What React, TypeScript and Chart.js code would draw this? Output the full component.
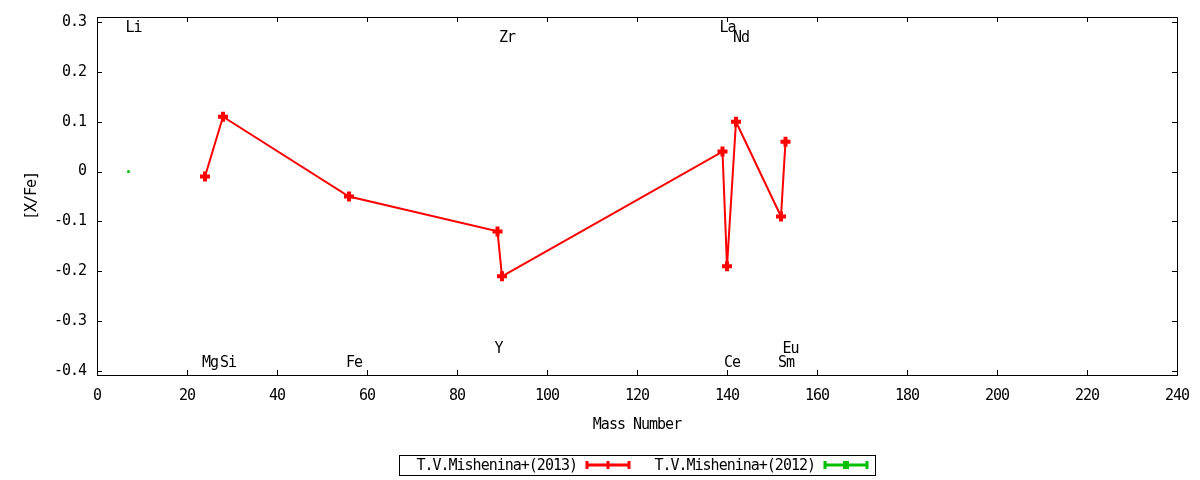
import { useEffect, useRef } from "react";
import { Chart, registerables, type Plugin } from "chart.js";

Chart.register(...registerables);

const FONT = "'DejaVu Sans Mono', monospace";
const FONT_SIZE = 15;
const RED = "#ff0000";
const GREEN = "#00c000";

// [X/Fe] vs mass number
const mass2013 = [24, 28, 56, 89, 90, 139, 140, 142, 152, 153];
const values2013 = [-0.01, 0.11, -0.05, -0.12, -0.21, 0.04, -0.19, 0.1, -0.09, 0.06];
const mass2012 = [7];
const values2012 = [0];
const seriesNames = ["T.V.Mishenina+(2013)", "T.V.Mishenina+(2012)"];

// element labels along the top / bottom of the plot
const elementNames = ["Li", "Mg", "Si", "Fe", "Y", "Zr", "La", "Ce", "Nd", "Sm", "Eu"];
const elementMass = [7, 24, 28, 56, 89, 90, 139, 140, 142, 152, 153];
const elementRow = [0, 3, 3, 3, 2, 1, 0, 3, 1, 3, 2];

const xTickValues = [0, 20, 40, 60, 80, 100, 120, 140, 160, 180, 200, 220, 240];
const xTickLabels = ["0", "20", "40", "60", "80", "100", "120", "140", "160", "180", "200", "220", "240"];
const yTickValues = [-0.4, -0.3, -0.2, -0.1, 0, 0.1, 0.2, 0.3];
const yTickLabels = ["-0.4", "-0.3", "-0.2", "-0.1", "0", "0.1", "0.2", "0.3"];

const rowValues = [0.288, 0.268, -0.356, -0.384];

const framePlugin: Plugin = {
  id: "frame",
  beforeDraw(chart) {
    // condensed look of the gnuplot font
    (chart.ctx as any).letterSpacing = "-1px";
  },
  afterDatasetsDraw(chart) {
    const { ctx, chartArea: a, scales } = chart;
    const x = scales.x;
    const y = scales.y;
    ctx.save();
    ctx.strokeStyle = "#000";
    ctx.lineWidth = 1;
    ctx.strokeRect(Math.round(a.left) + 0.5, Math.round(a.top) + 0.5, Math.round(a.right - a.left), Math.round(a.bottom - a.top));
    ctx.beginPath();
    for (const v of xTickValues) {
      const px = Math.round(x.getPixelForValue(v)) + 0.5;
      ctx.moveTo(px, a.bottom);
      ctx.lineTo(px, a.bottom - 5);
      ctx.moveTo(px, a.top);
      ctx.lineTo(px, a.top + 5);
    }
    for (const v of yTickValues) {
      const py = Math.round(y.getPixelForValue(v)) + 0.5;
      ctx.moveTo(a.left, py);
      ctx.lineTo(a.left + 5, py);
      ctx.moveTo(a.right, py);
      ctx.lineTo(a.right - 5, py);
    }
    ctx.stroke();

    // element names
    ctx.fillStyle = "#000";
    ctx.font = `${FONT_SIZE}px ${FONT}`;
    ctx.textAlign = "left";
    ctx.textBaseline = "middle";
    elementNames.forEach((name, i) => {
      const px = x.getPixelForValue(elementMass[i]) - 3;
      const py = y.getPixelForValue(rowValues[elementRow[i]]);
      ctx.fillText(name, px, py);
    });
    ctx.restore();
  },
  afterDraw(chart) {
    const { ctx, chartArea: a } = chart;
    const colors = [RED, GREEN];
    const entryW = 238;
    const cx = (a.left + a.right) / 2;
    const left = Math.round(cx - entryW * seriesNames.length / 2);
    const cy = chart.height - 15;
    ctx.save();
    ctx.strokeStyle = "#000";
    ctx.lineWidth = 1;
    ctx.strokeRect(left + 0.5, cy - 9.5, entryW * seriesNames.length, 20);
    ctx.font = `${FONT_SIZE}px ${FONT}`;
    ctx.textBaseline = "middle";
    ctx.textAlign = "right";
    seriesNames.forEach((name, i) => {
      const right = left + entryW * (i + 1);
      const s1 = right - 7;
      const s0 = s1 - 44;
      ctx.fillStyle = "#000";
      ctx.fillText(name, s0 - 9, cy + 1);
      ctx.strokeStyle = colors[i];
      ctx.fillStyle = colors[i];
      ctx.lineWidth = 3;
      ctx.beginPath();
      ctx.moveTo(s0, cy);
      ctx.lineTo(s1, cy);
      ctx.moveTo(s0 + 1, cy - 4);
      ctx.lineTo(s0 + 1, cy + 4);
      ctx.moveTo(s1 - 1, cy - 4);
      ctx.lineTo(s1 - 1, cy + 4);
      const m = (s0 + s1) / 2;
      ctx.moveTo(m, cy - 4);
      ctx.lineTo(m, cy + 4);
      ctx.stroke();
      if (i === 1) ctx.fillRect(m - 3, cy - 4, 6, 8);
    });
    ctx.restore();
  },
};

export default function App() {
  const canvasRef = useRef<HTMLCanvasElement>(null);

  useEffect(() => {
    document.body.style.margin = "0";
    if (!canvasRef.current) return;
    const chart = new Chart(canvasRef.current, {
      type: "line",
      data: {
        datasets: [
          {
            label: seriesNames[0],
            data: mass2013.map((m, i) => ({ x: m, y: values2013[i] })),
            borderColor: RED,
            backgroundColor: RED,
            borderWidth: 2,
            pointStyle: "cross",
            pointRadius: 5,
            pointBorderWidth: 4,
            pointBorderColor: RED,
            tension: 0,
            fill: false,
          },
          {
            label: seriesNames[1],
            data: mass2012.map((m, i) => ({ x: m, y: values2012[i] })),
            borderColor: GREEN,
            backgroundColor: GREEN,
            borderWidth: 2,
            pointStyle: "rect",
            pointRadius: 1.2,
            pointBorderWidth: 1,
            pointBorderColor: GREEN,
            fill: false,
          },
        ],
      },
      options: {
        responsive: true,
        maintainAspectRatio: false,
        animation: false,
        layout: { padding: { left: 0, top: 17, right: 23, bottom: 0 } },
        plugins: { legend: { display: false }, tooltip: { enabled: false } },
        scales: {
          x: {
            type: "linear",
            min: 0,
            max: 240,
            grid: { display: false, drawTicks: false },
            border: { display: false },
            afterBuildTicks: (s) => {
              s.ticks = xTickValues.map((v) => ({ value: v }));
            },
            afterFit: (s) => {
              s.height = 105;
              s.paddingLeft = 0;
              s.paddingRight = 0;
            },
            ticks: {
              color: "#000",
              font: { family: FONT, size: FONT_SIZE },
              padding: 12,
              maxRotation: 0,
              autoSkip: false,
              callback: (_v, i) => xTickLabels[i],
            },
            title: {
              display: true,
              text: "Mass Number",
              color: "#000",
              font: { family: FONT, size: FONT_SIZE, lineHeight: 1.2 },
              padding: { top: 0, bottom: 46 },
            },
          },
          y: {
            type: "linear",
            min: -0.408,
            max: 0.31,
            grid: { display: false, drawTicks: false },
            border: { display: false },
            afterBuildTicks: (s) => {
              s.ticks = yTickValues.map((v) => ({ value: v }));
            },
            afterFit: (s) => {
              s.width = 97;
              s.paddingTop = 0;
              s.paddingBottom = 0;
            },
            ticks: {
              color: "#000",
              font: { family: FONT, size: FONT_SIZE },
              padding: 11,
              autoSkip: false,
              callback: (_v, i) => yTickLabels[i],
            },
            title: {
              display: true,
              text: "[X/Fe]",
              color: "#000",
              font: { family: FONT, size: FONT_SIZE, lineHeight: 1.2 },
              padding: { top: 23, bottom: 0 },
            },
          },
        },
      },
      plugins: [framePlugin],
    });
    return () => chart.destroy();
  }, []);

  return (
    <div style={{ width: 1200, height: 480, position: "relative", background: "#fff" }}>
      <canvas ref={canvasRef} />
    </div>
  );
}
